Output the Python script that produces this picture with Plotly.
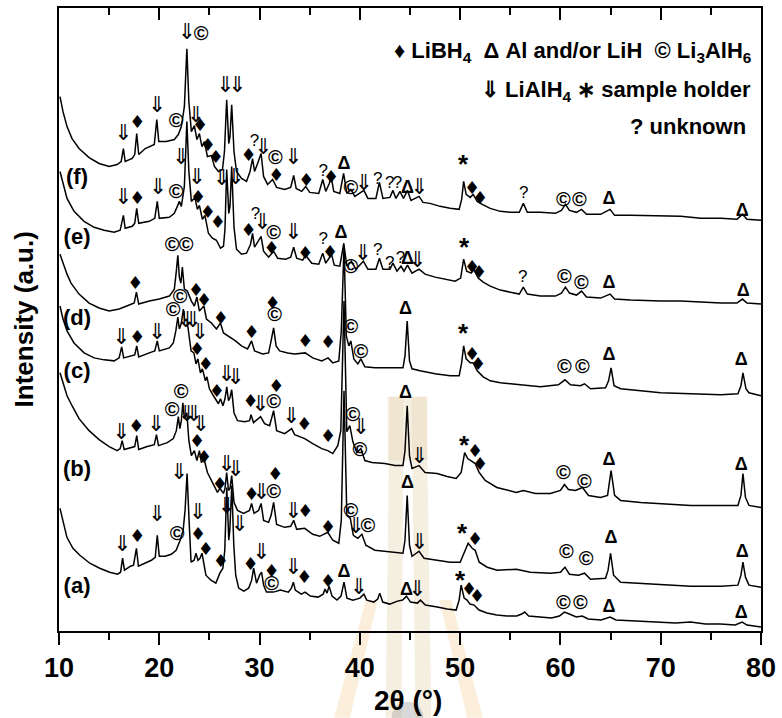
import plotly.graph_objects as go

# ---------------- data: XRD patterns (2theta in deg, stacked intensity in a.u.) ----------------
PATTERN_A = [(10.10,123),(10.40,109),(10.79,94),(11.39,83),(12.08,76),(13.07,68),(14.06,63),(15.05,59),(15.84,57),(16.14,59),(16.34,73),(16.53,61),(17.13,65),(17.43,66),(17.72,83),(17.92,65),(18.51,68),(19.21,71),(19.60,74),(19.80,96),(20.00,75),(20.59,75),(21.19,77),(21.68,81),(22.08,91),(22.38,101),(22.57,121),(22.77,158),(22.97,111),(23.17,69),(23.47,71),(23.66,78),(23.86,71),(24.06,73),(24.26,78),(24.46,66),(24.65,56),(25.15,51),(25.64,48),(26.04,58),(26.34,63),(26.53,81),(26.73,144),(26.93,91),(27.03,101),(27.23,146),(27.43,86),(27.62,56),(27.92,43),(28.42,40),(28.91,43),(29.21,51),(29.41,63),(29.70,48),(30.00,56),(30.20,59),(30.40,46),(30.69,39),(31.39,39),(32.08,41),(32.87,39),(33.17,43),(33.37,49),(33.56,41),(34.16,37),(34.55,39),(35.05,35),(35.84,34),(36.34,37),(36.53,42),(36.73,38),(36.93,45),(37.23,35),(37.72,31),(38.12,35),(38.42,49),(38.71,33),(39.31,31),(40.00,33),(40.40,37),(40.69,31),(41.39,29),(41.78,32),(41.98,38),(42.28,29),(42.97,27),(43.76,30),(44.26,31),(44.65,35),(45.05,29),(45.74,28),(46.04,31),(46.53,26),(47.72,24),(48.71,22),(49.60,21),(49.90,31),(50.10,46),(50.40,33),(50.69,31),(50.99,27),(51.39,26),(51.88,21),(52.67,18),(53.66,16),(54.65,15),(55.64,15),(56.14,17),(56.44,19),(56.83,15),(58.12,14),(59.11,13),(59.90,15),(60.40,19),(60.89,17),(61.58,14),(62.18,15),(62.77,12),(64.06,11),(64.95,14),(65.54,11),(67.52,10),(69.50,9),(71.49,8),(72.97,9),(74.46,7),(75.94,7),(77.43,6),(78.12,9),(78.61,6),(80.00,4)]

PATTERN_B = [(10.1,259),(10.4,248),(10.8,236),(11.3,226),(12.0,213),(13.0,201),(14.0,192),(15.0,185),(15.8,181),(16.1,183),(16.3,191),(16.5,182),(17.3,184),(17.55,185),(17.75,196),(17.95,182),(18.8,185),(19.5,187),(19.72,197),(19.92,186),(20.8,189),(21.4,193),(21.7,201),(21.9,215),(22.05,203),(22.2,211),(22.35,229),(22.5,213),(22.75,219),(22.95,191),(23.2,176),(23.5,181),(23.75,171),(24.0,181),(24.2,169),(24.45,173),(24.8,159),(25.3,149),(25.8,139),(26.05,143),(26.4,138),(26.55,143),(26.72,159),(26.9,141),(27.05,143),(27.22,156),(27.45,129),(27.8,121),(28.4,118),(29.0,121),(29.2,128),(29.45,118),(29.9,121),(30.15,128),(30.4,111),(30.9,109),(31.15,116),(31.4,129),(31.7,107),(32.5,104),(33.1,105),(33.4,111),(33.7,102),(34.5,103),(35.3,97),(36.0,95),(36.8,99),(37.3,91),(37.9,88),(38.15,111),(38.42,241),(38.7,116),(39.05,113),(39.35,96),(39.8,93),(40.2,97),(40.6,86),(41.5,81),(43.0,79),(44.3,78),(44.5,91),(44.72,136),(44.95,86),(45.2,75),(45.9,80),(46.4,73),(47.7,71),(49.0,69),(50.0,69),(50.4,79),(50.8,88),(51.2,83),(51.5,81),(51.9,69),(52.7,64),(53.7,61),(55.6,62),(57.0,59),(59.0,58),(60.0,59),(60.45,64),(60.9,57),(61.8,56),(62.4,58),(63.0,52),(64.5,53),(64.75,61),(65.0,78),(65.3,56),(66.0,49),(68.0,48),(70.0,47),(73.0,45),(76.0,45),(77.7,46),(78.0,56),(78.2,69),(78.45,54),(78.8,46),(80.0,44)]

PATTERN_C = [(10.1,326),(10.4,313),(10.8,301),(11.5,289),(12.5,279),(13.5,274),(14.5,272),(15.5,271),(16.0,274),(16.25,285),(16.45,274),(17.3,276),(17.55,277),(17.75,286),(17.95,275),(19.0,279),(19.55,281),(19.8,291),(20.0,281),(21.0,284),(21.4,289),(21.65,301),(21.85,315),(22.0,303),(22.2,309),(22.4,323),(22.55,311),(22.75,313),(22.95,296),(23.17,281),(23.45,279),(23.66,268),(23.85,273),(24.1,259),(24.3,263),(24.6,251),(24.75,255),(25.0,243),(25.4,236),(25.9,228),(26.1,233),(26.35,226),(26.55,233),(26.73,245),(26.9,231),(27.05,234),(27.22,242),(27.45,219),(27.8,211),(28.5,210),(29.0,211),(29.15,217),(29.4,209),(30.1,215),(30.5,208),(31.0,206),(31.4,221),(31.7,201),(32.5,198),(33.2,203),(33.5,197),(34.5,193),(35.3,188),(36.2,183),(36.8,181),(37.3,178),(37.8,186),(38.1,201),(38.42,331),(38.7,200),(39.0,206),(39.3,190),(39.7,179),(40.1,183),(40.5,171),(41.2,169),(42.5,168),(43.5,166),(44.3,166),(44.5,181),(44.72,226),(44.95,176),(45.2,163),(45.9,166),(46.5,159),(47.7,158),(48.7,155),(49.6,153),(50.1,159),(50.45,179),(50.75,173),(51.1,171),(51.5,168),(51.9,159),(52.5,151),(53.66,144),(55.6,139),(56.3,141),(57.5,138),(59.0,138),(60.0,141),(60.4,147),(60.8,142),(61.5,141),(62.2,144),(62.8,136),(64.0,134),(64.7,136),(65.05,161),(65.4,136),(66.0,131),(68.0,129),(70.0,128),(73.0,126),(76.0,126),(77.7,126),(78.0,136),(78.2,158),(78.45,134),(78.8,126),(80.0,124)]

PATTERN_D = [(10.1,378),(10.4,369),(10.8,358),(11.2,349),(12.0,338),(13.0,329),(14.0,324),(15.0,321),(16.0,323),(17.0,327),(17.5,329),(17.72,340),(17.95,328),(19.0,331),(20.0,333),(21.0,336),(21.5,343),(21.7,361),(21.85,377),(22.0,355),(22.15,349),(22.3,365),(22.5,343),(22.8,341),(23.2,331),(23.5,326),(23.75,335),(24.0,321),(24.45,326),(24.7,313),(25.2,309),(25.7,303),(26.1,309),(26.4,299),(27.0,295),(27.6,291),(28.2,286),(28.8,283),(29.2,291),(29.5,281),(30.3,278),(30.9,279),(31.15,291),(31.4,304),(31.65,286),(32.0,281),(32.8,279),(33.5,278),(34.55,279),(35.3,274),(36.2,271),(36.83,274),(37.3,269),(37.9,271),(38.15,301),(38.42,386),(38.65,296),(38.9,286),(39.1,291),(39.4,273),(39.8,268),(40.1,273),(40.5,265),(41.5,264),(43.0,264),(44.3,264),(44.5,276),(44.72,311),(44.95,271),(45.2,263),(46.0,261),(47.5,258),(49.0,256),(49.9,256),(50.15,269),(50.35,286),(50.6,273),(51.0,269),(51.3,269),(51.7,261),(52.3,255),(53.0,251),(54.0,249),(56.0,247),(58.0,245),(59.8,247),(60.45,252),(61.0,247),(62.0,246),(62.4,248),(63.0,243),(64.5,244),(64.8,251),(65.05,264),(65.35,246),(66.0,243),(68.0,241),(70.0,239),(73.0,238),(76.0,237),(77.7,238),(78.0,246),(78.2,259),(78.5,243),(78.8,239),(80.0,236)]

PATTERN_E = [(10.1,461),(10.4,448),(10.8,434),(11.5,421),(12.5,411),(13.5,405),(14.5,402),(15.5,400),(16.1,402),(16.42,417),(16.6,404),(17.3,406),(17.55,409),(17.75,424),(17.95,409),(19.0,411),(19.55,414),(19.8,431),(20.0,414),(21.0,415),(21.5,419),(21.8,426),(22.0,431),(22.2,426),(22.5,446),(22.75,511),(22.95,461),(23.2,431),(23.55,435),(23.8,423),(24.0,427),(24.3,413),(24.55,417),(24.9,399),(25.3,394),(25.7,392),(26.1,384),(26.4,386),(26.55,403),(26.72,463),(26.93,419),(27.05,426),(27.22,466),(27.45,405),(27.7,383),(28.2,378),(28.7,379),(29.1,388),(29.3,399),(29.5,385),(29.9,391),(30.15,396),(30.4,381),(30.9,375),(31.4,381),(31.8,374),(32.6,373),(33.1,375),(33.4,385),(33.7,374),(34.3,372),(34.6,377),(35.2,369),(35.9,368),(36.3,379),(36.6,369),(37.0,375),(37.15,379),(37.45,367),(38.0,366),(38.4,389),(38.7,366),(39.15,371),(39.6,363),(40.35,371),(40.8,363),(41.6,363),(41.95,374),(42.3,363),(43.0,363),(43.3,369),(43.7,361),(44.1,366),(44.4,361),(44.75,367),(45.2,359),(45.9,363),(46.5,358),(47.5,355),(48.5,353),(49.5,351),(50.05,354),(50.35,373),(50.65,361),(51.1,359),(51.35,363),(51.8,354),(52.3,350),(53.0,346),(54.0,342),(55.0,340),(55.9,338),(56.3,345),(56.7,338),(58.0,336),(59.5,336),(60.1,339),(60.5,345),(60.9,339),(61.6,337),(62.1,341),(62.6,335),(64.0,334),(64.95,338),(65.4,333),(67.0,332),(70.0,331),(72.0,331),(74.0,330),(76.0,329),(77.6,329),(78.15,333),(78.6,329),(80.0,328)]

PATTERN_F = [(10.1,536),(10.4,521),(10.8,506),(11.3,494),(12.0,484),(13.0,475),(14.0,469),(15.0,466),(15.8,468),(16.2,471),(16.42,484),(16.6,471),(17.3,474),(17.55,478),(17.75,499),(17.95,478),(18.6,484),(19.5,488),(19.75,513),(19.95,491),(20.7,491),(21.5,493),(21.9,498),(22.2,506),(22.5,526),(22.75,584),(22.95,531),(23.2,501),(23.5,507),(23.75,493),(24.0,499),(24.25,486),(24.5,491),(24.8,476),(25.2,477),(25.5,466),(25.9,461),(26.3,463),(26.5,481),(26.72,533),(26.93,489),(27.05,496),(27.22,528),(27.45,481),(27.7,461),(28.2,454),(28.7,451),(29.05,461),(29.3,474),(29.5,461),(29.8,469),(30.15,479),(30.4,456),(30.8,448),(31.3,453),(31.7,445),(32.5,443),(33.1,445),(33.4,457),(33.65,444),(34.2,441),(34.6,446),(35.0,440),(35.9,439),(36.3,453),(36.6,441),(36.95,449),(37.15,455),(37.4,441),(38.0,439),(38.38,459),(38.7,439),(39.1,443),(39.5,436),(40.4,442),(40.8,434),(41.6,434),(41.95,450),(42.3,434),(43.0,435),(43.3,442),(43.6,434),(44.0,441),(44.35,434),(44.75,442),(45.1,432),(45.9,436),(46.3,430),(47.0,429),(48.0,426),(49.0,424),(49.9,423),(50.15,433),(50.35,451),(50.6,438),(51.0,435),(51.3,438),(51.7,431),(52.2,428),(53.0,424),(54.0,421),(55.0,420),(55.9,420),(56.3,429),(56.7,420),(58.0,420),(59.5,419),(60.1,422),(60.5,428),(60.9,422),(61.6,420),(62.1,423),(62.6,418),(64.0,418),(64.95,423),(65.4,417),(67.0,417),(70.0,416),(72.0,416),(74.0,414),(76.0,414),(77.6,413),(78.15,418),(78.6,413),(80.0,412)]

PATTERNS = [PATTERN_A, PATTERN_B, PATTERN_C, PATTERN_D, PATTERN_E, PATTERN_F]

LABEL_NAMES = ["(a)", "(b)", "(c)", "(d)", "(e)", "(f)"]
LABEL_2THETA = [11.8, 11.8, 11.8, 11.8, 11.8, 11.8]
LABEL_INTENSITY = [44, 161, 259, 313, 394, 454]

# phase markers (2theta, intensity) for all six patterns
MARK_LIBH4 = [(17.82,509),(24.06,506),(24.85,486),(25.64,474),(28.91,476),(31.68,456),(34.65,451),(37.13,454),(51.19,443),(51.98,433),
              (17.82,433),(23.86,434),(24.85,419),(25.84,409),(28.91,401),(31.19,383),(34.55,378),(37.03,379),(51.19,364),(51.88,359),
              (17.62,348),(23.66,341),(24.46,331),(26.14,313),(29.21,298),(31.29,328),(34.55,289),(36.83,288),(51.19,276),(51.78,266),
              (17.82,293),(23.76,281),(24.65,266),(25.74,239),(29.11,229),(31.68,244),(34.46,206),(36.83,194),(51.49,179),(51.98,166),
              (17.72,204),(23.76,189),(24.46,173),(26.04,146),(29.21,136),(31.58,156),(34.55,119),(36.83,103),(51.49,91),
              (17.82,94),(23.86,96),(24.65,81),(26.14,69),(29.11,66),(31.19,59),(34.46,53),(36.83,49),(50.89,41),(51.68,34)]
MARK_LIALH4 = [(16.44,498),(19.80,526),(22.77,599),(23.66,516),(26.6,546),(27.8,546),(30.40,484),(33.37,474),(40.40,448),(45.94,444),
               (16.44,434),(19.90,444),(22.18,474),(23.76,454),(26.24,453),(27.62,454),(30.30,409),(33.37,399),(40.30,378),(45.74,371),
               (16.24,293),(19.80,298),(22.67,311),(23.37,311),(24.06,298),(26.73,256),(27.62,253),(30.10,226),(33.17,214),(40.10,203),(45.94,174),
               (16.24,198),(19.70,206),(22.77,216),(23.47,216),(24.16,206),(26.73,166),(27.62,161),(30.20,138),(33.37,119),(39.60,104),(45.94,88),
               (16.34,86),(19.80,116),(21.98,158),(23.86,118),(26.73,124),(28.02,106),(30.20,78),(33.37,63),(39.90,43),(45.74,41)]
MARK_LI3ALH6 = [(21.68,511),(24.16,598),(31.58,474),(39.11,443),(60.30,431),(61.88,431),
                (21.68,439),(31.39,398),(39.11,364),(60.40,354),(62.08,348),
                (21.29,386),(22.67,386),(31.49,316),(39.11,304),(40.10,279),(60.40,264),(62.18,264),
                (21.39,321),(22.08,334),(31.39,229),(39.31,216),(40.00,181),(60.30,158),(62.38,148),
                (21.29,221),(22.18,239),(31.39,138),(39.11,119),(40.79,104),(60.59,78),(62.57,71),
                (21.78,96),(31.19,46),(60.30,27),(61.98,27)]
MARK_AL_LIH = [(38.42,468),(44.75,444),(64.85,433),(78.12,421),
               (38.12,399),(44.75,373),(64.85,349),(78.22,341),
               (44.55,323),(64.85,276),(78.02,271),
               (44.55,238),(64.85,171),(78.02,166),
               (44.75,148),(65.05,93),(78.12,79),
               (38.42,59),(44.65,41),(64.85,24),(78.02,18)]
MARK_HOLDER = [(50.30,466),(50.40,383),(50.30,296),(50.40,184),(50.20,96),(50.00,49)]
MARK_UNKNOWN = [(29.50,491),(36.34,461),(41.78,453),(42.97,449),(43.76,449),(56.34,439),
                (29.60,418),(36.34,393),(41.78,381),(42.97,368),(44.06,373),(56.24,354)]

TICK_VALUES = [10, 20, 30, 40, 50, 60, 70, 80]

FONT = "Liberation Sans, Arial, sans-serif"

fig = go.Figure()

for pts in PATTERNS:
    xs, ys = zip(*pts)
    fig.add_trace(go.Scatter(x=list(xs), y=list(ys), mode="lines",
                             line=dict(color="black", width=1.5),
                             hoverinfo="skip", showlegend=False))

symbol_sets = [
    (MARK_LIBH4, "\u2666", dict(family="DejaVu Sans", size=18, color="black")),
    (MARK_LIALH4, "\u21d3", dict(family="DejaVu Sans", size=22, color="black")),
    (MARK_LI3ALH6, "\u00a9", dict(family=FONT, size=20, color="black", weight="bold")),
    (MARK_AL_LIH, "\u0394", dict(family=FONT, size=18, color="black", weight="bold")),
    (MARK_HOLDER, "*", dict(family=FONT, size=26, color="black", weight="bold")),
    (MARK_UNKNOWN, "?", dict(family=FONT, size=17, color="black")),
]
for pts, ch, font in symbol_sets:
    xs, ys = zip(*pts)
    fig.add_trace(go.Scatter(x=list(xs), y=list(ys), mode="text",
                             text=[ch] * len(xs), textfont=font,
                             textposition="middle center",
                             hoverinfo="skip", showlegend=False, cliponaxis=False))

fig.add_trace(go.Scatter(x=LABEL_2THETA, y=LABEL_INTENSITY, mode="text", text=LABEL_NAMES,
                         textfont=dict(family=FONT, size=22, color="black", weight="bold"),
                         textposition="middle center", hoverinfo="skip", showlegend=False))

# helper trace so the top axis (inward ticks) is drawn
fig.add_trace(go.Scatter(x=[10, 80], y=[-50, -50], xaxis="x2", yaxis="y",
                         mode="lines", line=dict(width=0), hoverinfo="skip", showlegend=False))

# faint watermark (decoration)
def P(px, py):
    return (px - 59) / 707.0, (631 - py) / 625.0

def poly(points):
    s = ""
    for i, (px, py) in enumerate(points):
        x, y = P(px, py)
        s += ("M" if i == 0 else "L") + f"{x:.4f},{y:.4f} "
    return s + "Z"

wm_beige = "rgba(228,212,180,0.38)"
wm_gold = "rgba(244,214,160,0.38)"
shapes = [
    dict(type="path", xref="paper", yref="paper", layer="below", line=dict(width=0),
         fillcolor=wm_beige, path=poly([(392, 396), (406, 396), (404, 718), (388, 718)])),
    dict(type="path", xref="paper", yref="paper", layer="below", line=dict(width=0),
         fillcolor=wm_beige, path=poly([(414, 396), (429, 396), (434, 718), (418, 718)])),
    dict(type="path", xref="paper", yref="paper", layer="below", line=dict(width=0),
         fillcolor=wm_beige, path=poly([(390, 396), (430, 396), (430, 460), (390, 460)])),
    dict(type="path", xref="paper", yref="paper", layer="below", line=dict(width=0),
         fillcolor=wm_gold, path=poly([(368, 600), (380, 600), (352, 718), (336, 718)])),
    dict(type="path", xref="paper", yref="paper", layer="below", line=dict(width=0),
         fillcolor=wm_gold, path=poly([(442, 600), (454, 600), (486, 718), (470, 718)])),
]
x0, y0 = P(394, 702)
x1, y1 = P(426, 734)
shapes.append(dict(type="circle", xref="paper", yref="paper", layer="below", line=dict(width=0),
                   fillcolor="rgba(160,160,160,0.40)", x0=x0, y0=y0, x1=x1, y1=y1))

nb = "\u00a0"
annotations = [
    dict(text="\u2666 LiBH<sub>4</sub>" + nb * 2 + "\u0394 Al and/or LiH" + nb * 2 + "\u00a9 Li<sub>3</sub>AlH<sub>6</sub>",
         xref="paper", yref="paper", x=0.988, y=0.929, xanchor="right", yanchor="middle",
         showarrow=False, font=dict(family=FONT, size=22, color="black", weight="bold")),
    dict(text="\u21d3 LiAlH<sub>4</sub> \u2217 sample holder",
         xref="paper", yref="paper", x=0.988, y=0.866, xanchor="right", yanchor="middle",
         showarrow=False, font=dict(family=FONT, size=22, color="black", weight="bold")),
    dict(text="? unknown",
         xref="paper", yref="paper", x=0.981, y=0.81, xanchor="right", yanchor="middle",
         showarrow=False, font=dict(family=FONT, size=22, color="black", weight="bold")),
    dict(text="2\u03b8 (\u00b0)", xref="paper", yref="paper", x=0.4965, y=-0.111,
         xanchor="center", yanchor="middle", showarrow=False,
         font=dict(family=FONT, size=28, color="black", weight="bold")),
    dict(text="Intensity (a.u.)", xref="paper", yref="paper", x=-0.050, y=0.50,
         xanchor="center", yanchor="middle", textangle=-90, showarrow=False,
         font=dict(family=FONT, size=26, color="black", weight="bold")),
]

fig.update_layout(
    width=782, height=718,
    margin=dict(l=59, r=16, t=6, b=87),
    paper_bgcolor="white", plot_bgcolor="white",
    showlegend=False,
    shapes=shapes,
    annotations=annotations,
    xaxis=dict(range=[10, 80], tickmode="array", tickvals=TICK_VALUES,
               ticktext=[str(v) for v in TICK_VALUES],
               ticks="outside", ticklen=12, tickwidth=2, tickcolor="black",
               showline=True, linewidth=2, linecolor="black", mirror=True,
               showgrid=False, zeroline=False,
               tickfont=dict(family=FONT, size=27, color="black", weight="bold"),
               minor=dict(tickmode="linear", tick0=10, dtick=5, ticks="outside",
                          ticklen=7, tickwidth=2, tickcolor="black", showgrid=False)),
    xaxis2=dict(range=[10, 80], overlaying="x", side="top", tickmode="array",
                tickvals=TICK_VALUES, ticks="inside", ticklen=12, tickwidth=2,
                tickcolor="black", showticklabels=False, showline=False,
                showgrid=False, zeroline=False,
                minor=dict(tickmode="linear", tick0=10, dtick=5, ticks="inside",
                           ticklen=7, tickwidth=2, tickcolor="black", showgrid=False)),
    yaxis=dict(range=[0, 625], showline=True, linewidth=2, linecolor="black",
               mirror=True, ticks="", showticklabels=False, showgrid=False,
               zeroline=False),
)

fig.write_html("out.html")
